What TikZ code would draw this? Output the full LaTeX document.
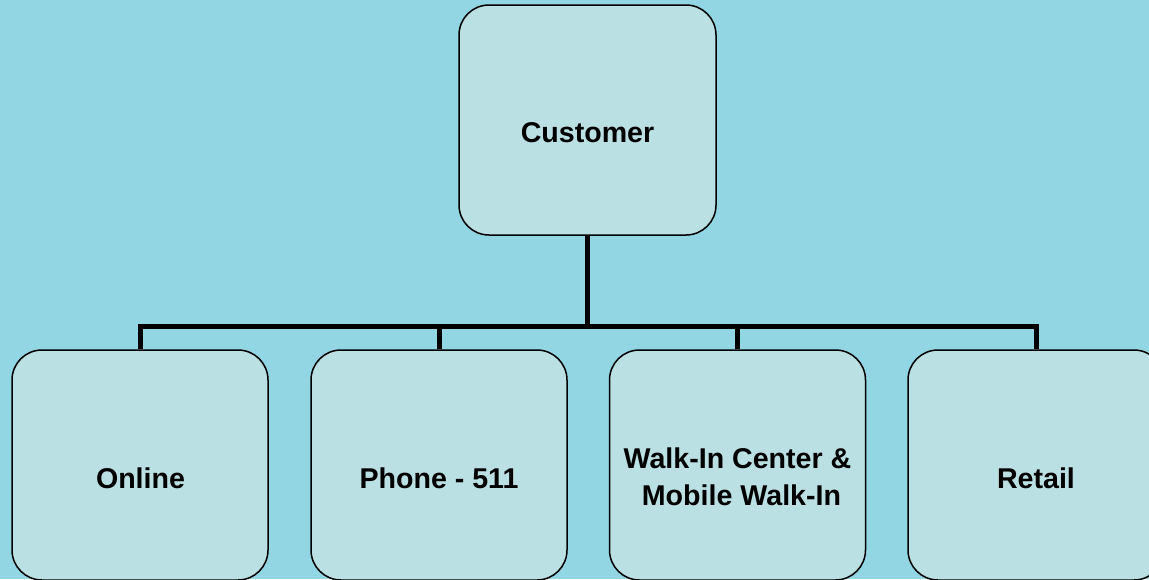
\documentclass[tikz,border=0pt]{standalone}
\usepackage{fontspec}
\setmainfont{Liberation Sans}
\definecolor{bgblue}{RGB}{146,213,227}
\definecolor{boxfill}{RGB}{186,224,227}
\begin{document}
\begin{tikzpicture}[x=1pt,y=-1pt,
  box/.style={draw=black,line width=1.5pt,fill=boxfill,rounded corners=30pt,
    minimum width=256pt,minimum height=230pt,inner sep=0pt},
  lbl/.style={font=\bfseries\fontsize{28.6}{37}\selectfont,inner sep=0pt,
    text height=20.5pt,text depth=0pt},
  lbl2/.style={font=\bfseries\fontsize{28.6}{37}\selectfont,inner sep=0pt,align=center},
  bus/.style={line width=5pt,line join=miter,line cap=butt}]
\useasboundingbox (0,0) rectangle (1149,579);
\fill[bgblue] (0,0) rectangle (1149,579);
\node[box,minimum width=257pt] (cust) at (587.5,120) {};
\node[box] (online) at (140,465) {};
\node[box] (phone) at (439,465) {};
\node[box] (walkin) at (737.5,465) {};
\node[box] (retail) at (1036,465) {};
\node[lbl] (tcust) at (587.5,132) {Customer};
\node[lbl] (tonline) at (140.5,478) {Online};
\node[lbl] (tphone) at (439,478) {Phone - 511};
\node[lbl2] (twalkin) at (737.5,477) {Walk-In Center \&\\\hspace*{0.278em}Mobile Walk-In};
\node[lbl] (tretail) at (1036,478) {Retail};
\coordinate (busy) at (0,326.5);
\draw[bus] (online.north) -- (online.north |- busy) -| (retail.north);
\draw[bus] (cust.south) -- (cust.south |- busy);
\draw[bus] (phone.north) -- (phone.north |- busy);
\draw[bus] (walkin.north) -- (walkin.north |- busy);
\end{tikzpicture}
\end{document}
